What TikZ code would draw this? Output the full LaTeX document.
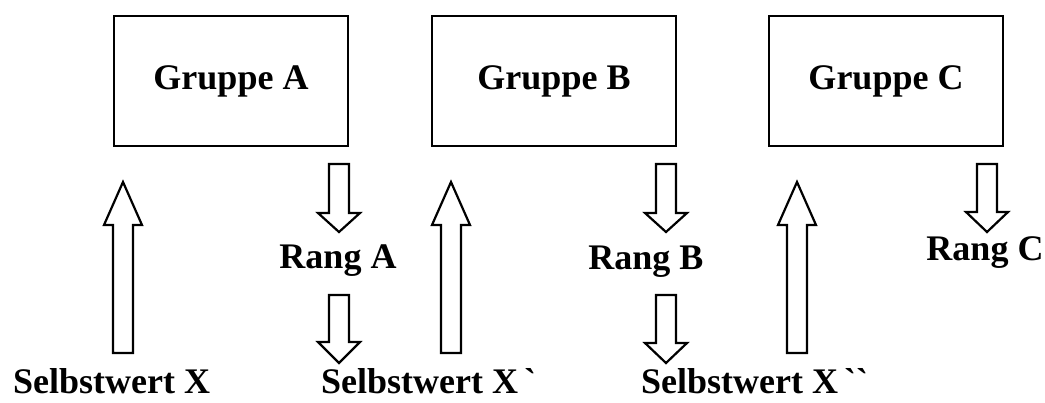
\documentclass[tikz,border=0pt]{standalone}
\usepackage{fontspec}
\setmainfont{Liberation Serif}
\begin{document}
\begin{tikzpicture}[x=1pt,y=-1pt,
  grp/.style={draw, line width=1.6pt, minimum width=234pt, minimum height=130pt, inner sep=0pt, font=\fontsize{36}{40}\selectfont\bfseries},
  lbl/.style={inner sep=0pt, font=\fontsize{36}{40}\selectfont\bfseries},
  blockarrow/.style={draw, line width=2.2pt, fill=white, line join=miter}]
\useasboundingbox (0,0) rectangle (1045,403);
% group boxes
\node[grp] (ga) at (231,81) {Gruppe A};
\node[grp, minimum width=244pt] (gb) at (554,81) {Gruppe B};
\node[grp] (gc) at (886,81) {Gruppe C};
% labels
\node[lbl, anchor=base] (ra) at (338,269) {Rang A};
\node[lbl, anchor=base] (rb) at (646,270) {Rang B};
\node[lbl, anchor=base] (rc) at (985,261) {Rang C};
\node[lbl, anchor=base west] (s1) at (13,394) {Selbstwert X};
\node[lbl, anchor=base west] (s2) at (321,394) {Selbstwert X\,\textasciigrave};
\node[lbl, anchor=base west] (s3) at (641,394) {Selbstwert X\,\textasciigrave\textasciigrave};
% up block arrows
\foreach \c in {123,451,797}{
  \draw[blockarrow] (\c-10,353) -- (\c-10,225) -- (\c-19,225) -- (\c,182)
     -- (\c+19,225) -- (\c+10,225) -- (\c+10,353) -- cycle;
}
% down block arrows: centre, top, head base, tip
\foreach \c/\t/\b/\p in {339/164/213/232, 339/295/342/363, 666/164/213/232, 666/295/343/363, 987/164/212/232}{
  \draw[blockarrow] (\c-10,\t) -- (\c-10,\b) -- (\c-21,\b) -- (\c,\p)
     -- (\c+21,\b) -- (\c+10,\b) -- (\c+10,\t) -- cycle;
}
\end{tikzpicture}
\end{document}
